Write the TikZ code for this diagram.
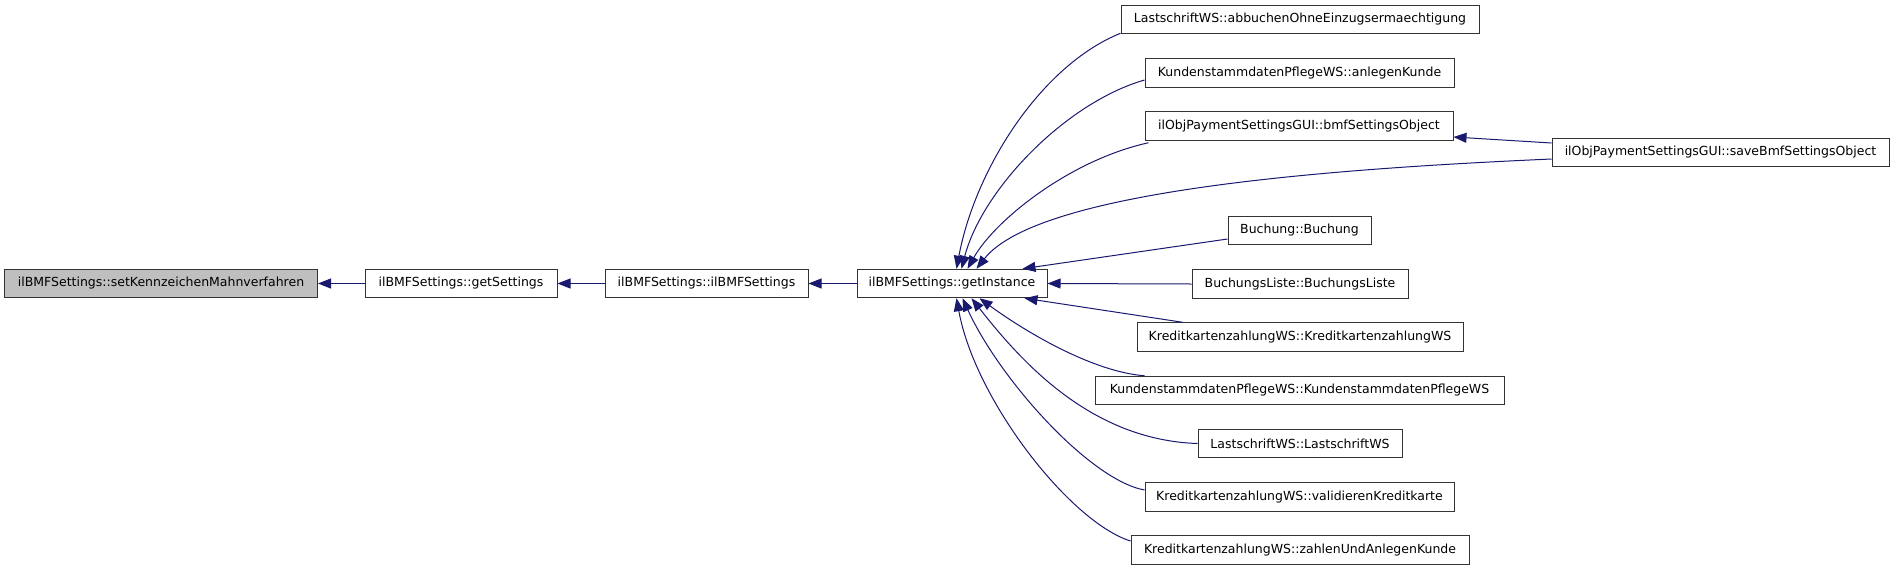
\documentclass[tikz,border=0pt]{standalone}
\usepackage{fontspec}
\setmainfont{DejaVu Sans}
\usetikzlibrary{arrows.meta}
\definecolor{edgec}{RGB}{25,25,112}
\definecolor{grayfill}{RGB}{191,191,191}
\begin{document}
\begin{tikzpicture}[x=1pt,y=-1pt,
  fn/.style={draw=black!80, line width=1pt, fill=white, inner sep=0pt,
    minimum height=28.5pt, font=\fontsize{12.5}{15}\selectfont, anchor=center},
  edge/.style={draw=edgec, line width=1pt, -{Triangle[length=13pt,width=10pt]}}]
\fill[white] (0,0) rectangle (1896,571);
\useasboundingbox (0,0) rectangle (1896,571);
% main chain
\node[fn, fill=grayfill, minimum width=313pt] (n1) at (161,283.5) {ilBMFSettings::setKennzeichenMahnverfahren};
\node[fn, minimum width=192pt] (n2) at (461,283.5) {ilBMFSettings::getSettings};
\node[fn, minimum width=203pt] (n3) at (706.5,283.5) {ilBMFSettings::ilBMFSettings};
\node[fn, minimum width=190pt] (n4) at (952,283.5) {ilBMFSettings::getInstance};
% right column
\node[fn, minimum width=358pt] (r1) at (1300,19.5) {LastschriftWS::abbuchenOhneEinzugsermaechtigung};
\node[fn, minimum width=309pt] (r2) at (1299.5,73) {KundenstammdatenPflegeWS::anlegenKunde};
\node[fn, minimum width=308pt] (r3) at (1299,126) {ilObjPaymentSettingsGUI::bmfSettingsObject};
\node[fn, minimum width=337pt] (s) at (1720.5,152.5) {ilObjPaymentSettingsGUI::saveBmfSettingsObject};
\node[fn, minimum width=143pt] (r4) at (1299.5,230.5) {Buchung::Buchung};
\node[fn, minimum width=216pt] (r5) at (1300,284) {BuchungsListe::BuchungsListe};
\node[fn, minimum width=326pt] (r6) at (1300,337) {KreditkartenzahlungWS::KreditkartenzahlungWS};
\node[fn, minimum width=409pt] (r7) at (1299.5,390.5) {KundenstammdatenPflegeWS::KundenstammdatenPflegeWS};
\node[fn, minimum width=204pt] (r8) at (1300,443.5) {LastschriftWS::LastschriftWS};
\node[fn, minimum width=309pt] (r9) at (1299.5,497) {KreditkartenzahlungWS::validierenKreditkarte};
\node[fn, minimum width=338pt] (r10) at (1300,550) {KreditkartenzahlungWS::zahlenUndAnlegenKunde};
% straight edges
\draw[edge] (n2.west) -- (n1.east);
\draw[edge] (n3.west) -- (n2.east);
\draw[edge] (n4.west) -- (n3.east);
\draw[edge] (r5.west) -- (n4.east);
\draw[edge] ([yshift=9.5pt]s.west) -- ([yshift=-11pt]r3.east);
% top curves
\draw[edge] ([yshift=1pt]r1.south west) .. controls (1040,66) and (975,170) .. ([xshift=100pt]n4.north west);
\draw[edge] ([yshift=-7pt]r2.west) .. controls (1065,103) and (982,190) .. ([xshift=105pt]n4.north west);
\draw[edge] ([xshift=4pt,yshift=-2pt]r3.south west) .. controls (1070,160) and (995,220) .. ([xshift=111pt]n4.north west);
\draw[edge] ([yshift=-6.5pt]s.west) .. controls (1350,168) and (1040,188) .. ([xshift=120pt]n4.north west);
\draw[edge] ([yshift=-8.5pt]r4.west) -- ([xshift=166pt]n4.north west);
% bottom curves
\draw[edge] ([xshift=46pt]r6.north west) -- ([xshift=168pt]n4.south west);
\draw[edge] ([xshift=50pt]r7.north west) .. controls (1095,372) and (1030,335) .. ([xshift=123pt]n4.south west);
\draw[edge] (r8.west) .. controls (1090,440) and (1020,360) .. ([xshift=115pt]n4.south west);
\draw[edge] ([yshift=7pt]r9.west) .. controls (1090,480) and (1000,380) .. ([xshift=106pt]n4.south west);
\draw[edge] ([yshift=9pt]r10.west) .. controls (1070,522) and (975,400) .. ([xshift=100pt]n4.south west);
\end{tikzpicture}
\end{document}
